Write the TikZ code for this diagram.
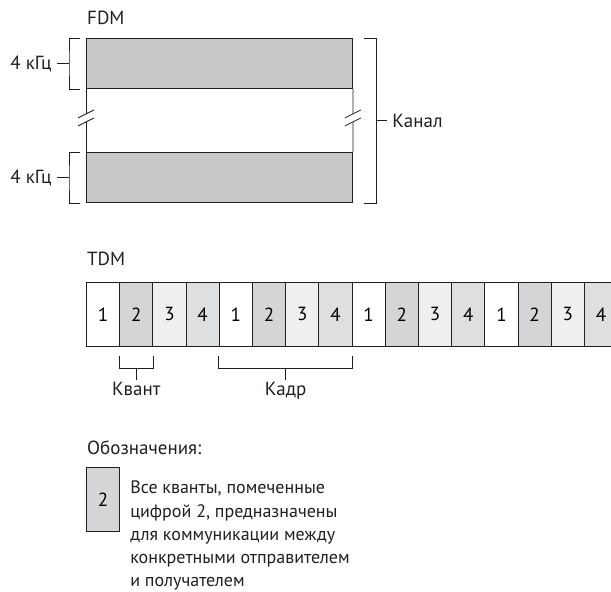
\documentclass[tikz,border=0pt]{standalone}
\usepackage{fontspec}
\setmainfont{PT Sans}
\usepackage{xcolor}
\definecolor{LineDark}{RGB}{35,31,32}
\definecolor{FillBand}{RGB}{200,201,203}
\definecolor{FillTwo}{RGB}{212,213,215}
\definecolor{FillThree}{RGB}{238,239,239}
\definecolor{FillFour}{RGB}{222,223,225}
\usepackage{tikz}
\usetikzlibrary{positioning, calc}
\tikzset{
  % FDM frequency band
  band/.style={
    rectangle, draw=LineDark, line width=0.9pt,
    fill=FillBand, anchor=north west,
    minimum width=266pt, minimum height=50pt,
    inner sep=0pt
  },
  % TDM time slot
  slot/.style={
    rectangle, draw=LineDark, line width=0.9pt,
    anchor=north west,
    minimum width=33.2pt, minimum height=64pt,
    inner sep=0pt, font=\fontsize{19}{22}\selectfont
  },
  % Brackets and ticks
  brk/.style={draw=LineDark, line width=0.8pt},
  % Text labels
  lbl/.style={font=\fontsize{19}{22}\selectfont, text=LineDark, inner sep=2pt},
}

\begin{document}
\begin{tikzpicture}[x=1pt, y=1pt]

  \useasboundingbox (0,0) rectangle (611,-592);

  %% FDM
  \node[lbl, anchor=west] (fdm) at (85,-18) {FDM};

  \node[band] (band1) at (86,-38) {};
  \node[band] (band2) at (86,-152) {};

  \coordinate (gapL) at ($(band1.south west)!0.46!(band2.north west)$);
  \coordinate (gapR) at ($(band1.south east)!0.46!(band2.north east)$);

  \draw[brk] (band1.south west) -- ([yshift=4pt]gapL);
  \draw[brk] ([yshift=-4pt]gapL) -- (band2.north west);
  \draw[brk] (band1.south east) -- ([yshift=4pt]gapR);
  \draw[brk] ([yshift=-4pt]gapR) -- (band2.north east);

  % break marks
  \foreach \g in {gapL, gapR} {
    \draw[brk] ($(\g)+(-8,0)$) -- ($(\g)+(8,8)$);
    \draw[brk] ($(\g)+(-8,-8)$) -- ($(\g)+(8,0)$);
  }

  % band width brackets
  \foreach \b in {band1, band2} {
    \draw[brk] ([xshift=-6pt]\b.north west) -| ([xshift=-17pt]\b.west)
      |- ([xshift=-6pt]\b.south west);
    \draw[brk] ([xshift=-17pt]\b.west) -- ([xshift=-29pt]\b.west)
      node[lbl, left, xshift=-3pt] (khz-\b) {4 кГц};
  }

  % channel bracket
  \coordinate (chmid) at ($(band1.north east)!0.5!(band2.south east)$);
  \draw[brk] ([xshift=11pt]band1.north east) -| ([xshift=23pt]chmid)
    |- ([xshift=11pt]band2.south east);
  \draw[brk] ([xshift=23pt]chmid) -- ([xshift=34pt]chmid)
    node[lbl, right, xshift=3pt] (chan) {Канал};

  %% TDM
  \node[lbl, anchor=west] (tdm) at (85,-259) {TDM};

  \foreach \i/\n/\c in {1/1/white, 2/2/FillTwo, 3/3/FillThree, 4/4/FillFour,
                        5/1/white, 6/2/FillTwo, 7/3/FillThree, 8/4/FillFour,
                        9/1/white, 10/2/FillTwo, 11/3/FillThree, 12/4/FillFour,
                        13/1/white, 14/2/FillTwo, 15/3/FillThree, 16/4/FillFour} {
    \node[slot, fill=\c] (s\i) at ({86+(\i-1)*33.2},-282) {\n};
  }

  % slot bracket
  \draw[brk] ([yshift=-9pt]s2.south west) -- ([yshift=-21pt]s2.south west)
    -- ([yshift=-21pt]s2.south east) -- ([yshift=-9pt]s2.south east);
  \draw[brk] ([yshift=-21pt]s2.south) -- ([yshift=-33pt]s2.south)
    node[lbl, below] (kvant) {Квант};

  % frame bracket
  \coordinate (frmid) at ($(s5.south west)!0.5!(s8.south east)$);
  \draw[brk] ([yshift=-9pt]s5.south west) -- ([yshift=-21pt]s5.south west)
    -- ([yshift=-21pt]s8.south east) -- ([yshift=-9pt]s8.south east);
  \draw[brk] ([yshift=-21pt]frmid) -- ([yshift=-33pt]frmid)
    node[lbl, below] (kadr) {Кадр};

  %% Legend
  \node[lbl, anchor=west] (legtitle) at (85,-448) {Обозначения:};
  \node[slot, fill=FillTwo] (legslot) at (86,-467) {2};
  \node[lbl, anchor=north west, align=left, font=\fontsize{18}{23.2}\selectfont]
    (legtext) at ([xshift=8pt, yshift=-12pt]legslot.north east)
    {Все кванты, помеченные\\цифрой 2, предназначены\\для коммуникации между\\конкретными отправителем\\и получателем};

\end{tikzpicture}
\end{document}
